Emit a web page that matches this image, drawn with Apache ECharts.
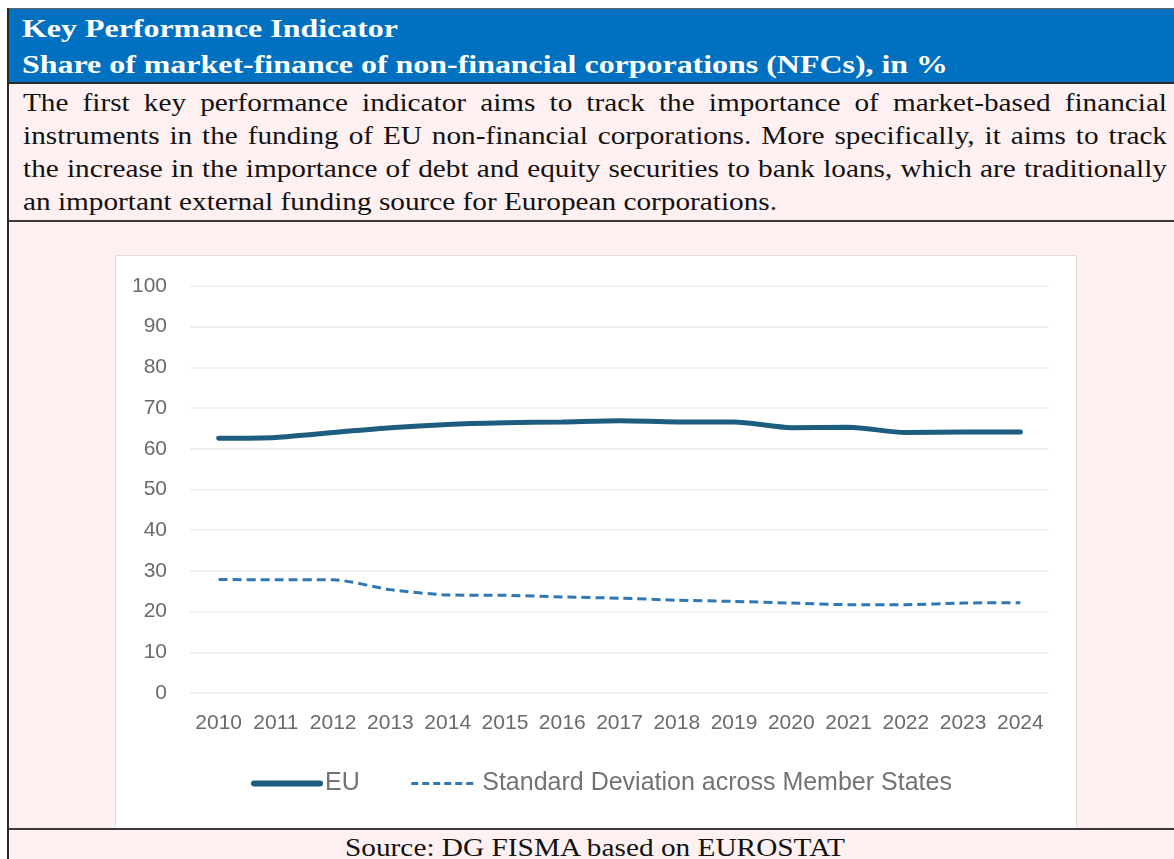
<!DOCTYPE html>
<html>
<head>
<meta charset="utf-8">
<script src="https://cdn.jsdelivr.net/npm/echarts@6/dist/echarts.min.js"></script>
<style>
html,body{margin:0;padding:0;background:#ffffff;width:1174px;height:859px;overflow:hidden;position:relative;}
.abs{position:absolute;}
#hdr{left:7px;top:8px;width:1200px;height:74px;background:#0070c0;border-top:1px solid #666;}
#hdrline{left:7px;top:82px;width:1200px;height:2px;background:#2a2a2a;}
#body{left:9px;top:84px;width:1200px;height:137px;background:#fff1f1;}
#line2{left:7px;top:220px;width:1200px;height:2px;background:#3a3a3a;}
#chartzone{left:9px;top:222px;width:1200px;height:607px;background:#fff1f1;}
#line3{left:7px;top:828px;width:1200px;height:2px;background:#3a3a3a;}
#srczone{left:9px;top:830px;width:1200px;height:40px;background:#fff1f1;}
#leftborder{left:7px;top:8px;width:2px;height:860px;background:#2a2a2a;}
#chart{left:115px;top:255px;width:962px;height:573px;background:#ffffff;box-sizing:border-box;border:1px solid #dedede;border-bottom:none;}
.ln{position:absolute;white-space:nowrap;transform-origin:0 0;font-family:"Liberation Serif","Times New Roman",serif;line-height:26px;font-size:26px;color:#111;}
.hd{color:#ffffff;font-weight:bold;}
</style>
</head>
<body>
<div class="abs" id="hdr"></div>
<div class="abs" id="hdrline"></div>
<div class="abs" id="body"></div>
<div class="abs" id="line2"></div>
<div class="abs" id="chartzone"></div>
<div class="abs" id="line3"></div>
<div class="abs" id="srczone"></div>
<div class="abs" id="leftborder"></div>

<span class="ln hd" id="h1" style="left:22px;top:16px;">Key Performance Indicator</span>
<span class="ln hd" id="h2" style="left:22px;top:52px;">Share of market-finance of non-financial corporations (NFCs), in %</span>

<span class="ln" id="b1" style="left:23px;top:90px;">The first key performance indicator aims to track the importance of market-based financial</span>
<span class="ln" id="b2" style="left:23px;top:123px;">instruments in the funding of EU non-financial corporations. More specifically, it aims to track</span>
<span class="ln" id="b3" style="left:23px;top:156px;">the increase in the importance of debt and equity securities to bank loans, which are traditionally</span>
<span class="ln" id="b4" style="left:23px;top:189px;">an important external funding source for European corporations.</span>

<span class="ln" id="src" style="left:345px;top:835px;">Source: DG FISMA based on EUROSTAT</span>

<div class="abs" id="chart"></div>

<script>
// ---- data ----
const years = ['2010','2011','2012','2013','2014','2015','2016','2017','2018','2019','2020','2021','2022','2023','2024'];
const euShare = [62.6, 62.8, 64.0, 65.2, 66.0, 66.4, 66.6, 66.9, 66.6, 66.6, 65.2, 65.3, 64.0, 64.1, 64.1];
const stdDev  = [27.9, 27.8, 27.8, 25.4, 24.1, 24.0, 23.6, 23.3, 22.8, 22.5, 22.1, 21.7, 21.7, 22.1, 22.2];
const seriesNames = ['EU', 'Standard Deviation across Member States'];
const yMin = 0, yMax = 100, yStep = 10;

// ---- text fitting ----
function natural(el){ el.style.transform='none'; return el.getBoundingClientRect().width; }
function fitScale(id, target){
  const el=document.getElementById(id); const w=natural(el); const s=target/w;
  el.style.transform='scaleX('+s+')'; return s;
}
function justify(id, target, s){
  const el=document.getElementById(id);
  el.style.wordSpacing='0px';
  const w=natural(el);
  const n=(el.textContent.match(/ /g)||[]).length;
  const ws=(target/s - w)/n;
  el.style.wordSpacing=ws+'px';
  el.style.transform='scaleX('+s+')';
}
function layoutText(){
  fitScale('h1', 376);
  fitScale('h2', 926);
  const s = fitScale('b4', 754);
  justify('b1', 1144, s);
  justify('b2', 1144, s);
  justify('b3', 1144, s);
  fitScale('src', 500);
}
if (document.fonts && document.fonts.ready) { document.fonts.ready.then(layoutText); }
layoutText();

// ---- chart ----
const chart = echarts.init(document.getElementById('chart'), null, {renderer:'canvas'});
const axisFont = '"Liberation Sans", Arial, sans-serif';
const euColor = '#1c5d80', sdColor = '#2f78b4';
chart.setOption({
  animation:false,
  backgroundColor:'#ffffff',
  grid:{left:74, right:27, top:30, bottom:135, containLabel:false},
  legend:{
    data:[
      {name:seriesNames[0], lineStyle:{width:6, color:euColor, cap:'round'}},
      {name:seriesNames[1], lineStyle:{width:3, color:sdColor, type:[7,4]}}
    ],
    left:135, top:515,
    itemWidth:66, itemHeight:2, itemGap:50,
    itemStyle:{opacity:0, borderWidth:0},
    padding:0,
    textStyle:{fontFamily:axisFont, fontSize:25, color:'#737373'}
  },
  xAxis:{
    type:'category', data:years, boundaryGap:true,
    axisLine:{show:false}, axisTick:{show:false},
    axisLabel:{fontFamily:axisFont, fontSize:21, color:'#6a6a6a', margin:20, interval:0}
  },
  yAxis:{
    type:'value', min:yMin, max:yMax, interval:yStep,
    axisLine:{show:false}, axisTick:{show:false},
    axisLabel:{fontFamily:axisFont, fontSize:21, color:'#6a6a6a', margin:23},
    splitLine:{lineStyle:{color:'#ececec', width:1.5}}
  },
  series:[
    {
      name:seriesNames[0], type:'line', data:euShare, smooth:0.25,
      symbol:'none', lineStyle:{color:euColor, width:5, cap:'round'},
      itemStyle:{color:euColor}
    },
    {
      name:seriesNames[1], type:'line', data:stdDev, smooth:0.25,
      symbol:'none', lineStyle:{color:sdColor, width:3, type:[9,5]},
      itemStyle:{color:sdColor}
    }
  ]
});
</script>
</body>
</html>
